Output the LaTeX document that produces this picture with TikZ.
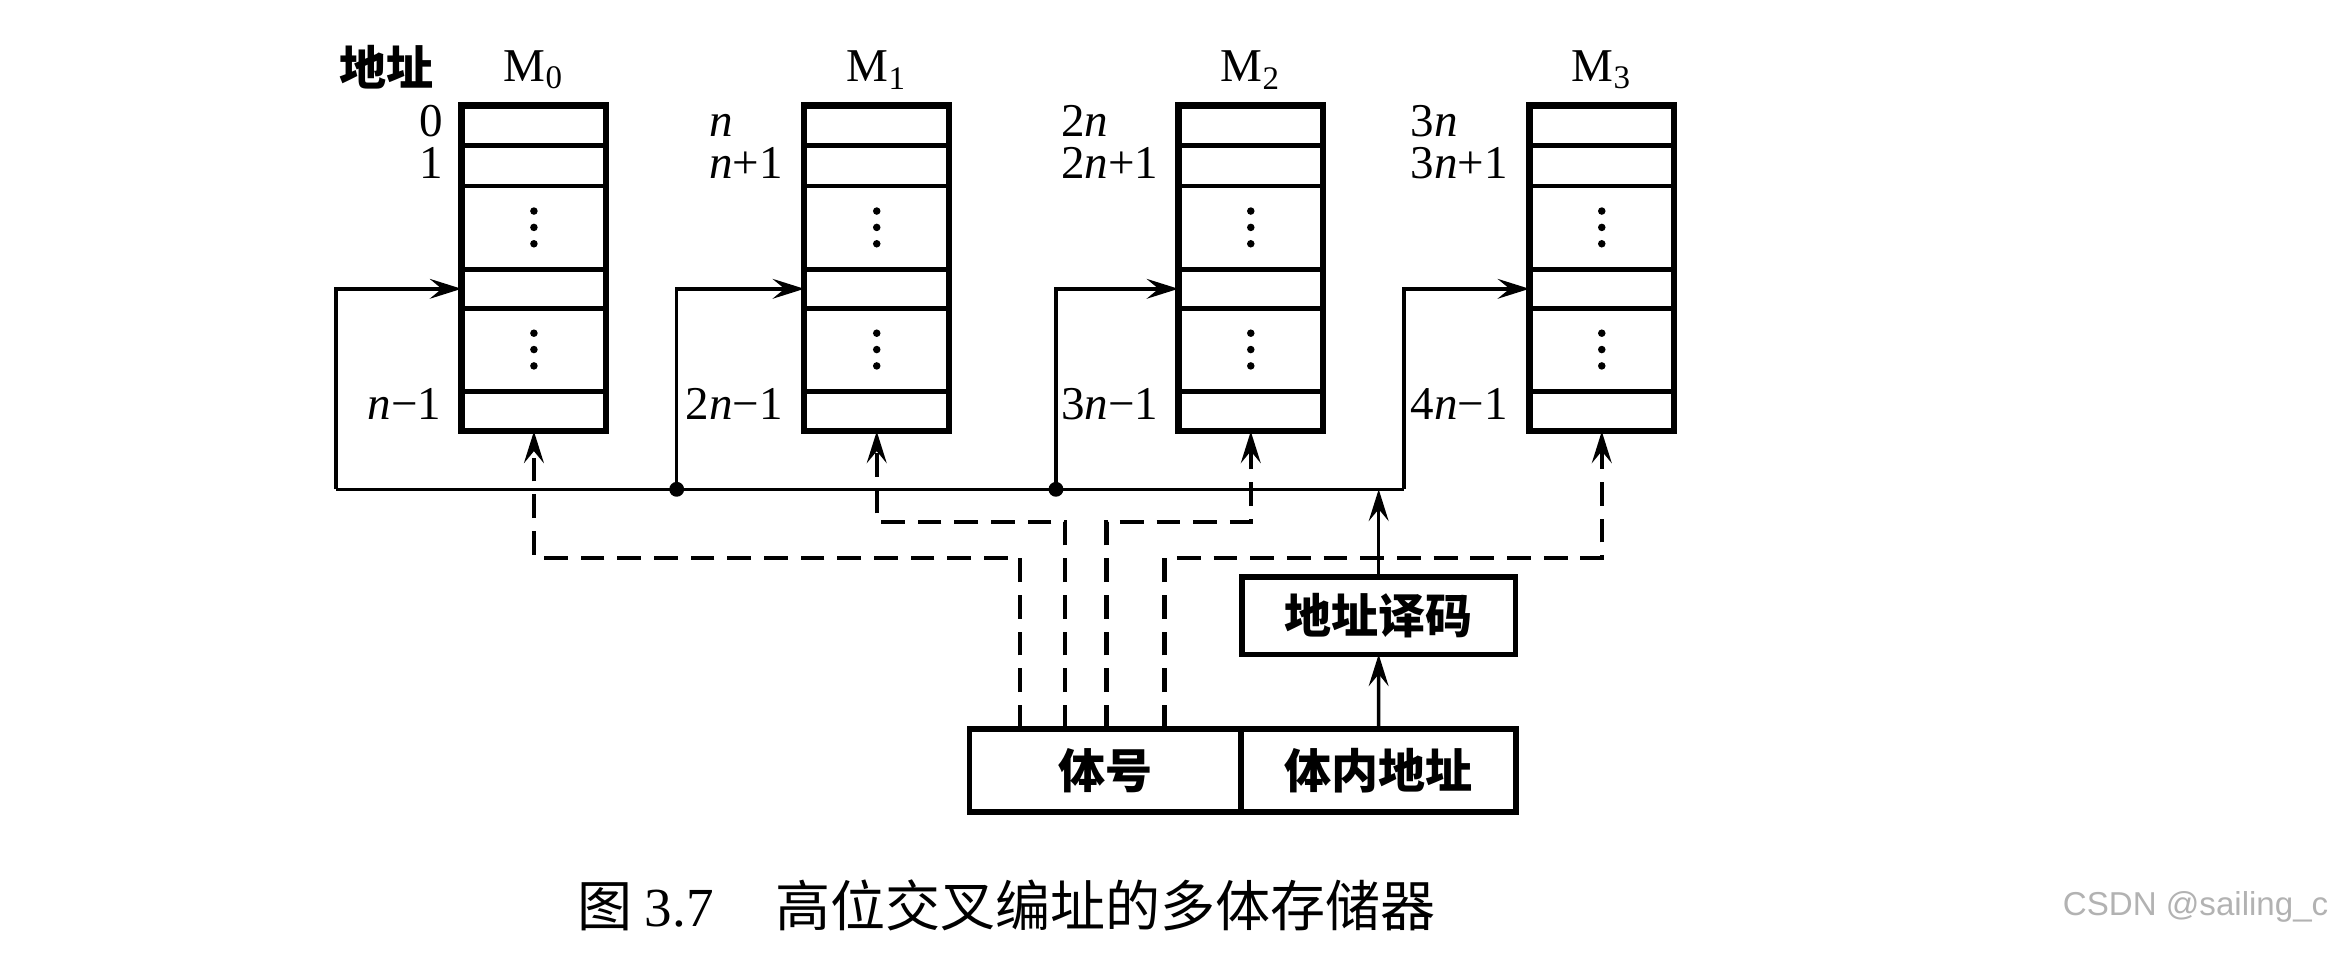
\documentclass[tikz,border=0pt]{standalone}
\usepackage{fontspec}
\setmainfont{Liberation Serif}
\newfontfamily\cjk{Noto Sans CJK SC}
\newfontfamily\wmfont{Liberation Sans}
\usetikzlibrary{positioning,arrows.meta,calc}
\tikzset{
  membox/.style={rectangle, draw, line width=1.8pt, minimum width=14.6mm,
                 minimum height=32.85mm, inner sep=0pt, outer sep=0pt},
  rowline/.style={line width=1.4pt},
  addr/.style={font=\fontsize{13.5}{15}\selectfont, inner sep=0pt},
  mlbl/.style={font=\fontsize{13.5}{15}\selectfont, inner sep=0pt},
  clbl/.style={font=\cjk\bfseries\fontsize{13.5}{16}\selectfont, inner sep=0pt},
  cbox/.style={rectangle, draw, line width=1.6pt, inner sep=0pt, outer sep=0pt,
               font=\cjk\bfseries\fontsize{13.5}{16}\selectfont},
  wire/.style={line width=1pt},
  ar/.style={-{Stealth[length=3.2mm,width=2mm,inset=1.2mm]}, line width=1pt},
  dsh/.style={ar, line width=1.2pt, dash pattern=on 2.4mm off 1.3mm},
  jdot/.style={circle, fill, inner sep=0pt, minimum size=1.5mm},
}
\begin{document}
\begin{tikzpicture}[x=0.15mm, y=-0.15mm]
  \useasboundingbox (0,0) rectangle (1568,641);

  \node[membox] (m0) at (359,180.5) {};
  \node[membox] (m1) at (589.5,180.5) {};
  \node[membox] (m2) at (841,180.5) {};
  \node[membox] (m3) at (1077,180.5) {};
  \foreach \b in {m0,m1,m2,m3} {
    \foreach \f in {0.122,0.247,0.503,0.622,0.879}
      \draw[rowline] ($(\b.north west)!\f!(\b.south west)$) -- ($(\b.north east)!\f!(\b.south east)$);
    \foreach \f in {0.374,0.749}
      \foreach \d in {-11,0,11}
        \fill ($(\b.north)!\f!(\b.south)+(0,\d)$) circle (0.38mm);
  }

  \node[mlbl, above=1.6mm of m0] (t0) {M\textsubscript{0}};
  \node[mlbl, above=1.6mm of m1] (t1) {M\textsubscript{1}};
  \node[mlbl, above=1.6mm of m2] (t2) {M\textsubscript{2}};
  \node[mlbl, above=1.6mm of m3] (t3) {M\textsubscript{3}};
  \node[clbl] (hd) at (260,45) {地址};

  \node[addr, anchor=base east] (a00) at ($(m0.west |- 0,92)+(-12,0)$) {0};
  \node[addr, anchor=base east] (a01) at ($(m0.west |- 0,120)+(-12,0)$) {1};
  \node[addr, anchor=base east] (a02) at ($(m0.west |- 0,282)+(-13,0)$) {\textit{n}−1};
  \node[addr, anchor=base east] (a11) at ($(m1.west |- 0,120)+(-14,0)$) {\textit{n}+1};
  \node[addr, anchor=base west] (a10) at (a11.base west |- 0,92) {\textit{n}};
  \node[addr, anchor=base east] (a12) at ($(m1.west |- 0,282)+(-14,0)$) {2\textit{n}−1};
  \node[addr, anchor=base east] (a21) at ($(m2.west |- 0,120)+(-13,0)$) {2\textit{n}+1};
  \node[addr, anchor=base west] (a20) at (a21.base west |- 0,92) {2\textit{n}};
  \node[addr, anchor=base east] (a22) at ($(m2.west |- 0,282)+(-13,0)$) {3\textit{n}−1};
  \node[addr, anchor=base east] (a31) at ($(m3.west |- 0,120)+(-14,0)$) {3\textit{n}+1};
  \node[addr, anchor=base west] (a30) at (a31.base west |- 0,92) {3\textit{n}};
  \node[addr, anchor=base east] (a32) at ($(m3.west |- 0,282)+(-14,0)$) {4\textit{n}−1};

  \node[cbox, minimum width=27.6mm, minimum height=7.8mm] (dec) at (927,414) {地址译码};
  \node[cbox, minimum width=27.4mm, minimum height=8.4mm] (bank) at (743.25,518) {体号};
  \node[cbox, minimum width=27.7mm, minimum height=8.4mm, right=0pt of bank] (off) {体内地址};

  \coordinate (busl) at (226,329);
  \coordinate (busr) at (944,329);
  \node[jdot] (j1) at (455,329) {};
  \node[jdot] (j2) at (710,329) {};
  \coordinate (in0) at ($(m0.north west)!0.5625!(m0.south west)$);
  \coordinate (in1) at ($(m1.north west)!0.5625!(m1.south west)$);
  \coordinate (in2) at ($(m2.north west)!0.5625!(m2.south west)$);
  \coordinate (in3) at ($(m3.north west)!0.5625!(m3.south west)$);

  \draw[wire] (busl) -- (busr);
  \draw[ar] (busl) |- (in0);
  \draw[ar] (j1.center) |- (in1);
  \draw[ar] (j2.center) |- (in2);
  \draw[ar] (busr) |- (in3);
  \draw[ar] (off.north) -- (dec.south);
  \draw[ar] (dec.north) -- (dec.north |- busr);

  \coordinate (d0) at (686,0 |- bank.north);
  \coordinate (d1) at (716,0 |- bank.north);
  \coordinate (d2) at (744,0 |- bank.north);
  \coordinate (d3) at (783,0 |- bank.north);
  \draw[dsh] (d0) |- (m0.south |- 0,375) -- (m0.south);
  \draw[dsh] (d1) |- (m1.south |- 0,351) -- (m1.south);
  \draw[dsh] (d2) |- (m2.south |- 0,351) -- (m2.south);
  \draw[dsh] (d3) |- (m3.south |- 0,375) -- (m3.south);

  \node[anchor=west, inner sep=0pt, font=\fontsize{15.8}{19}\selectfont] (cap) at (388,609)
    {{\cjk 图}\hspace{1.2mm}3.7\hspace{6.2mm}{\cjk 高位交叉编址的多体存储器}};
  \node[anchor=east, inner sep=0pt, text=black!30, font=\wmfont\fontsize{9.5}{11}\selectfont] (wm) at (1566,610)
    {CSDN @sailing\_c};
\end{tikzpicture}
\end{document}
